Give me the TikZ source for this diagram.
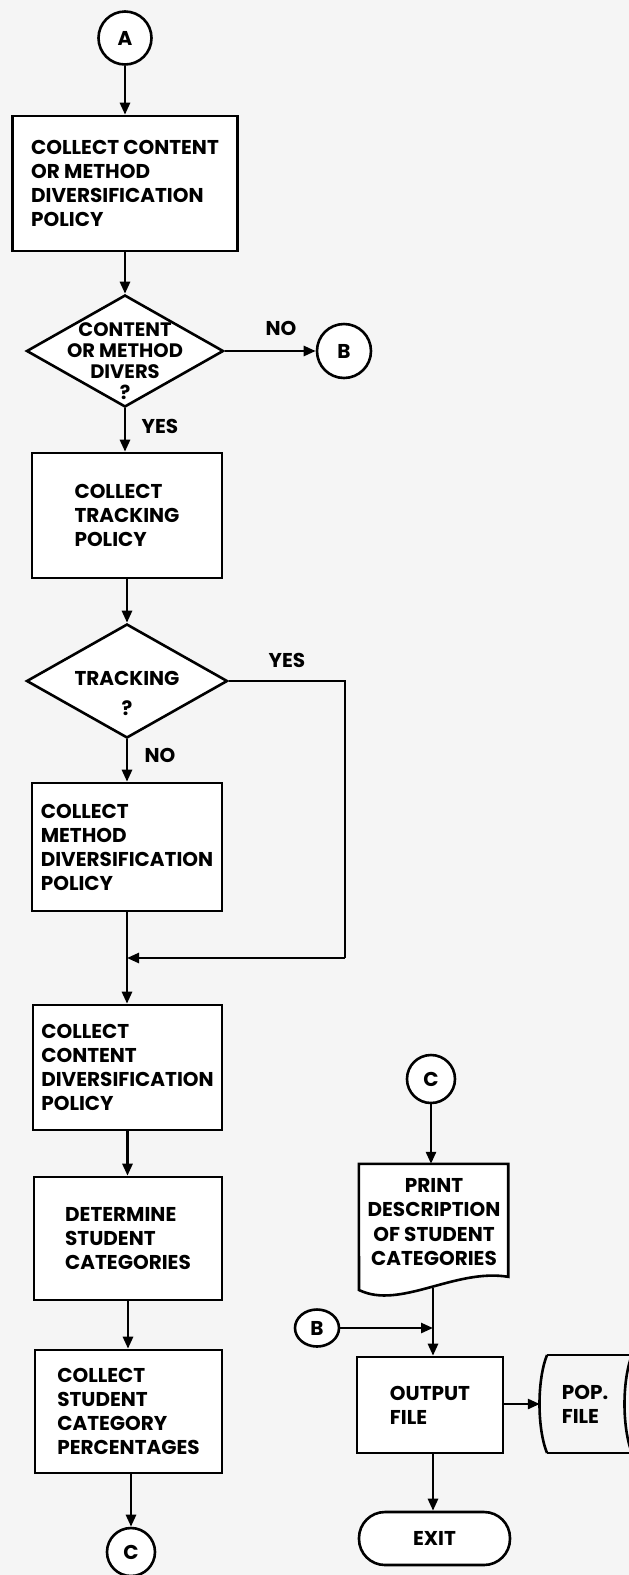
\documentclass[tikz,border=0pt]{standalone}
\usepackage{fontspec}
\setmainfont{Poppins}
\usetikzlibrary{shapes.geometric,arrows.meta,calc}
\newcommand\myfs{\fontsize{20}{24}\bfseries\selectfont}
\newcommand\myfsd{\fontsize{19.5}{21}\bfseries\selectfont}
\tikzset{
  ln/.style={line width=2.6pt, line join=miter},
  arr/.style={ln, -{Triangle[length=12pt,width=10pt]}},
  box/.style={draw, ln, rectangle, align=left, inner sep=0pt, font=\myfs, fill=white},
  circ/.style={draw, ln, circle, inner sep=0pt, font=\myfs, fill=white},
  dia/.style={draw, ln, diamond, inner sep=0pt, fill=white},
  lbl/.style={inner sep=0pt, font=\myfs},
}
\begin{document}
\begin{tikzpicture}[x=1pt,y=-1pt]
\useasboundingbox (0,0) rectangle (629,1575);
\clip (0,0) rectangle (629,1575);
\fill[black!4] (0,0) rectangle (629,1575);

% left column
\node[circ, minimum size=53pt] (A) at (125,38) {A};
\node[box, minimum width=225pt, minimum height=135pt] (b1) at (125,183.5)
  {COLLECT CONTENT\\OR METHOD\\DIVERSIFICATION\\POLICY};
\node[dia, minimum width=197pt, minimum height=112pt] (d1) at (125,351) {};
\node[lbl, align=center, font=\myfsd] (d1t) at (125,361) {CONTENT\\OR METHOD\\DIVERS\\?};
\node[circ, minimum size=54pt] (B) at (344,351) {B};
\node[lbl] (no1) at (281,328) {NO};
\node[lbl] (yes1) at (160,426) {YES};

\node[box, minimum width=190pt, minimum height=125pt] (b2) at (127,515.5)
  {COLLECT\\TRACKING\\POLICY};
\node[dia, minimum width=201pt, minimum height=114pt] (d2) at (127,681) {};
\node[lbl, align=center, font={\fontsize{20}{30}\bfseries\selectfont}] (d2t) at (127,693) {TRACKING\\?};
\node[lbl] (yes2) at (287,660) {YES};
\node[lbl] (no2) at (160,755) {NO};

\node[box, minimum width=190pt, minimum height=128pt] (b3) at (127,847)
  {COLLECT\\METHOD\\DIVERSIFICATION\\POLICY};
\coordinate (c1) at (345,681);
\coordinate (c2) at (345,958);
\coordinate (j1) at (127,958);

\node[box, minimum width=189pt, minimum height=125pt] (b4) at (127.5,1067.5)
  {COLLECT\\CONTENT\\DIVERSIFICATION\\POLICY};
\node[box, minimum width=188pt, minimum height=123pt] (b5) at (128,1238.5)
  {DETERMINE\\STUDENT\\CATEGORIES};
\node[box, minimum width=187pt, minimum height=123pt] (b6) at (128.5,1411.5)
  {COLLECT\\STUDENT\\CATEGORY\\PERCENTAGES};
\node[circ, minimum size=48pt] (C) at (131,1552) {C};

% right column
\node[circ, minimum size=48pt] (C2) at (431,1079) {C};
\node[inner sep=0pt, minimum width=149pt, minimum height=124pt] (doc) at (433.5,1226) {};
\draw[ln, fill=white] (doc.north west) -- (doc.north east) -- ($(doc.north east)+(0,113)$)
  .. controls (455,1268) and (400,1310) .. (359,1290) -- cycle;
\node[lbl, align=center, font={\fontsize{20}{24.5}\bfseries\selectfont}] (doct) at (434,1222) {PRINT\\DESCRIPTION\\OF STUDENT\\CATEGORIES};

\node[draw, ln, ellipse, inner sep=0pt, minimum width=44pt, minimum height=37pt, font=\myfs, fill=white] (B2) at (317,1328) {B};
\coordinate (j2) at (433,1328);

\node[box, minimum width=146pt, minimum height=96pt] (out) at (430,1405) {OUTPUT\\FILE};
\node[inner sep=0pt, align=left, font=\myfs, minimum width=90pt, minimum height=98pt] (pop) at (585,1404) {POP.\\FILE};
\draw[ln] (547,1355) -- (640,1355);
\draw[ln] (547,1453) -- (640,1453);
\draw[ln] (547,1355) .. controls (537,1380) and (537,1428) .. (547,1453);
\draw[ln] (632,1355) .. controls (622,1380) and (622,1428) .. (632,1453);

\node[draw, ln, rectangle, rounded corners=26pt, minimum width=151pt, minimum height=53pt, font=\myfs, inner sep=0pt, fill=white] (exit) at (434.5,1538.5) {EXIT};

% connectors
\draw[arr] (A.south) -- (A.south |- b1.north);
\draw[arr] (b1.south -| d1.north) -- (d1.north);
\draw[arr] (d1.east) -- (B.west);
\draw[arr] (d1.south) -- (d1.south |- b2.north);
\draw[arr] (b2.south -| d2.north) -- (d2.north);
\draw[arr] (d2.south) -- (d2.south |- b3.north);
\draw[ln] (d2.east) -- (c1) -- (c2);
\draw[arr] (c2) -- (j1);
\draw[arr] (b3.south) -- (b3.south |- b4.north);
\draw[arr] (b4.south) -- (b4.south |- b5.north);
\draw[arr] (b5.south) -- (b5.south |- b6.north);
\draw[arr] (C.north |- b6.south) -- (C.north);

\draw[arr] (C2.south) -- (C2.south |- doc.north);
\draw[arr] (doc.south -| j2) -- (j2 |- out.north);
\draw[arr] (B2.east) -- (j2);
\draw[arr] (out.east |- pop.west) -- (pop.west);
\draw[arr] (j2 |- out.south) -- (j2 |- exit.north);
\end{tikzpicture}
\end{document}
